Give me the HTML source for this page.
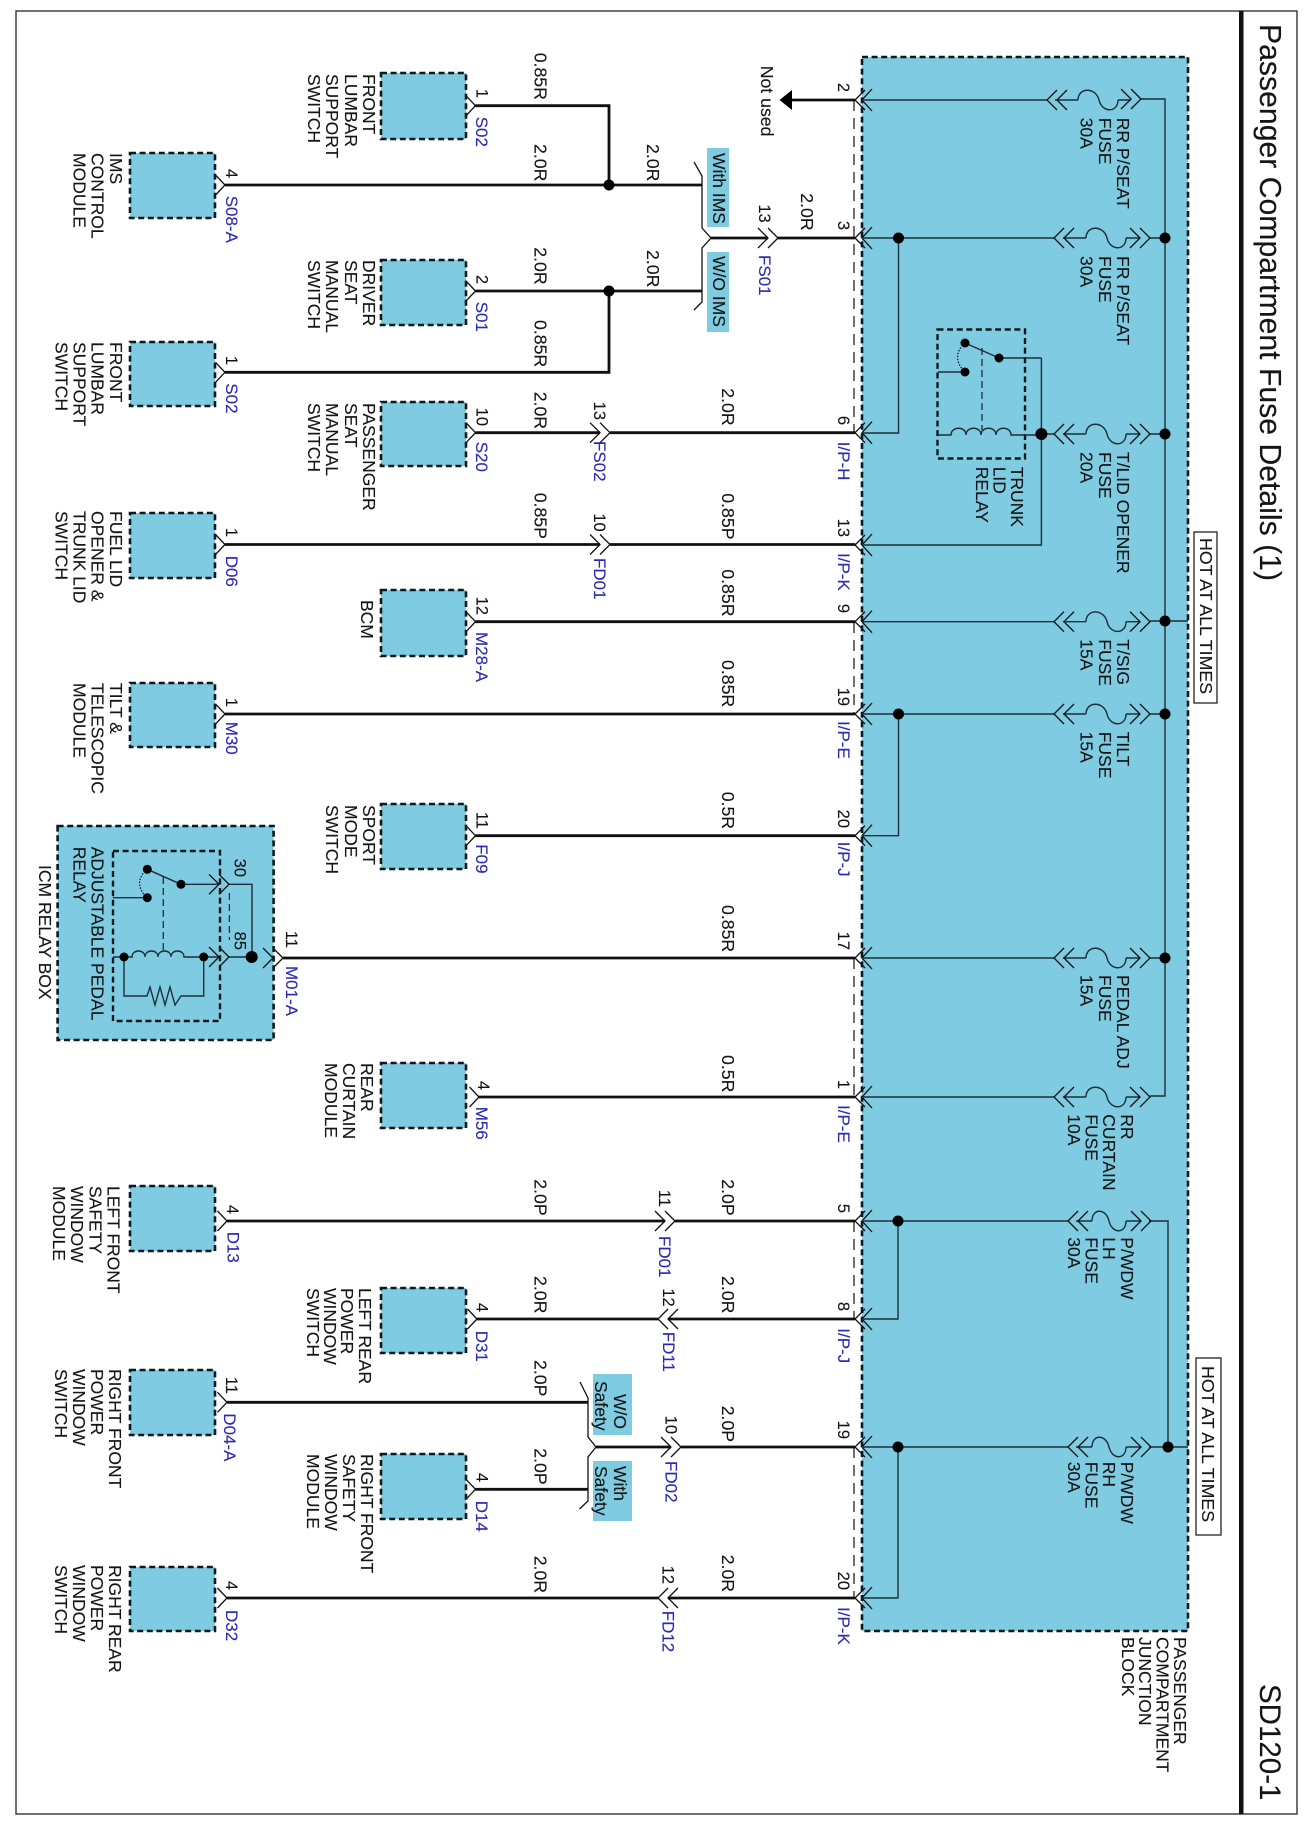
<!DOCTYPE html>
<html><head><meta charset="utf-8"><title>SD120-1</title>
<style>
html,body{margin:0;padding:0;background:#fff;width:1305px;height:1824px;overflow:hidden}
svg{display:block}
text{font-family:"Liberation Sans",sans-serif;fill:#151515;stroke:#151515;stroke-width:.12}
.l{font-size:17.5px}.n{font-size:16.5px;text-anchor:end}.r{font-size:17px;fill:#2a2ab4;stroke:#2a2ab4}.w{font-size:17.7px}
.b{fill:#7fcbe1;stroke:#0c1a20;stroke-width:2.6;stroke-dasharray:6 3.6}
.t{fill:none;stroke:#101010;stroke-width:2.8}
.h{fill:none;stroke:#1c2f38;stroke-width:1.4}
.c{fill:none;stroke:#111;stroke-width:1.3}
</style></head><body>
<svg width="1305" height="1824" viewBox="0 0 1305 1824" xmlns="http://www.w3.org/2000/svg">
<defs>
<path id="p" class="c" d="M10,-10L0,0L10,10M17,-11L7,0L17,11"/>
<path id="gg" class="c" d="M-10,-10L0,0L-10,10M0,-10L10,0L0,10"/>
<path id="ll" class="c" d="M10,-10L0,0L10,10M20,-10L10,0L20,10"/>
<path id="s" class="c" d="M-9.5,-10L0,0L-9.5,10"/>
<path id="f" class="h" d="M0,0C0,-13 18,-13 21,0C24,13 40,13 40,0"/>
<path id="f2" class="h" d="M0,0C0,-13 14,-13 17,0C20,13 34,13 34,0"/>
</defs>
<rect width="1305" height="1824" fill="#fff"/>
<rect x="16" y="11" width="1281" height="1803" fill="none" stroke="#333" stroke-width="1.4"/>
<rect x="1239" y="11" width="4.5" height="1803" fill="#111"/>

<!-- blue blocks -->
<rect class="b" x="862" y="57" width="326" height="1574"/>
<rect class="b" x="57.6" y="826" width="216" height="214"/>
<rect class="b" x="130" y="153" width="85" height="65"/>
<rect class="b" x="381" y="73" width="85" height="66"/>
<rect class="b" x="381" y="260" width="85" height="65"/>
<rect class="b" x="130" y="342" width="85" height="64"/>
<rect class="b" x="381" y="402" width="85" height="64"/>
<rect class="b" x="130" y="513" width="85" height="65"/>
<rect class="b" x="381" y="590" width="85" height="66"/>
<rect class="b" x="130" y="683" width="85" height="64"/>
<rect class="b" x="381" y="804" width="85" height="65"/>
<rect class="b" x="381" y="1063" width="85" height="65"/>
<rect class="b" x="130" y="1186" width="85" height="65"/>
<rect class="b" x="381" y="1288" width="85" height="65"/>
<rect class="b" x="130" y="1370" width="85" height="65"/>
<rect class="b" x="381" y="1454" width="85" height="65"/>
<rect class="b" x="130" y="1567" width="85" height="64"/>
<rect x="707" y="148" width="22" height="79" fill="#7fcbe1"/>
<rect x="707" y="252" width="22" height="80" fill="#7fcbe1"/>
<rect x="593" y="1374" width="39" height="61" fill="#7fcbe1"/>
<rect x="593" y="1461" width="39" height="60" fill="#7fcbe1"/>

<!-- dashed connector rails -->
<path d="M854,100V433M854,622V714M854,958V1097M854,1221V1319M854,1447V1598" fill="none" stroke="#111" stroke-width="1.2" stroke-dasharray="11 7"/>

<!-- thick wires -->
<path class="t" d="M475.5,105.7H609V185M225,185H702M475.5,291H702M609,291V372.3H225M475.5,432.7H600M610,432.7H855M225,544.5H600M610,544.5H855M475.5,621.7H855M225,714H855M475.5,835.7H855M283,958H855M479,1097H855M227,1221H665M675,1221H855M477,1319H658M668,1319H855M227,1402.3H588M475.5,1489.3H588M596,1447H671M681,1447H855M227,1598H658M668,1598H855M711,238H768M777,238H855M792,100H855"/>
<path d="M779.5,100L792,90V110Z" fill="#000"/>

<!-- branch brackets -->
<path class="c" d="M694,162L702,176V228L711,238L702,248V302L694,310"/>
<path class="c" d="M580,1382L588,1398V1437L596,1447L588,1457V1501L579.5,1509"/>

<!-- box connectors -->
<use href="#s" x="225" y="185"/><use href="#s" x="475.5" y="105.7"/><use href="#s" x="475.5" y="291"/><use href="#s" x="225" y="372.3"/><use href="#s" x="475.5" y="432.7"/><use href="#s" x="225" y="544.5"/><use href="#s" x="475.5" y="621.7"/><use href="#s" x="225" y="714"/><use href="#s" x="475.5" y="835.7"/><use href="#s" x="479" y="1097"/><use href="#s" x="227" y="1221"/><use href="#s" x="477" y="1319"/><use href="#s" x="227" y="1402.3"/><use href="#s" x="475.5" y="1489.3"/><use href="#s" x="227" y="1598"/>

<!-- pass-through connectors -->
<use href="#gg" x="768" y="238"/><use href="#gg" x="600" y="432.7"/><use href="#gg" x="600" y="544.5"/><use href="#gg" x="665" y="1221"/><use href="#ll" x="658" y="1319"/><use href="#gg" x="671" y="1447"/><use href="#ll" x="658" y="1598"/><use href="#gg" x="273" y="958"/>

<!-- junction pins -->
<use href="#p" x="855" y="100"/><use href="#p" x="855" y="238"/><use href="#p" x="855" y="432.7"/><use href="#p" x="855" y="545"/><use href="#p" x="855" y="621.7"/><use href="#p" x="855" y="714"/><use href="#p" x="855" y="835.7"/><use href="#p" x="855" y="958"/><use href="#p" x="855" y="1097"/><use href="#p" x="855" y="1221"/><use href="#p" x="855" y="1319"/><use href="#p" x="855" y="1447"/><use href="#p" x="855" y="1598"/>

<!-- internal wiring -->
<path class="h" d="M862,100H1047M1055,100H1078M1118,100H1131M1141,99H1165V1096H1150"/>
<path class="h" d="M862,238H1054M1063,238H1086M1126,238H1140M1150,238H1165M898.5,238V433H862"/>
<path class="h" d="M1063,434H1086M1126,434H1140M1150,434H1165M1041.4,434H1054M1041.4,358V545H862M999,358H1041.4"/>
<path class="h" d="M862,621.7H1054M1063,621.7H1086M1126,621.7H1140M1150,621H1188"/>
<path class="h" d="M862,714H1054M1063,714H1086M1126,714H1140M1150,714H1165M898.5,714V835.7H862"/>
<path class="h" d="M862,958H1054M1063,958H1086M1126,958H1140M1150,958H1165"/>
<path class="h" d="M862,1097H1054M1063,1097H1086M1126,1097H1140"/>
<path class="h" d="M862,1221H1068M1076,1221H1092M1126,1221H1141M1149,1221H1168V1447M898,1221V1319H862"/>
<path class="h" d="M862,1447H1068M1076,1447H1092M1126,1447H1141M1149,1447H1188M898,1447V1598H862"/>

<!-- fuses -->
<use href="#ll" x="1047" y="100"/><use href="#f" x="1078" y="100"/><use href="#gg" x="1131" y="99"/>
<use href="#ll" x="1054" y="238"/><use href="#f" x="1086" y="238"/><use href="#gg" x="1140" y="238"/>
<use href="#ll" x="1054" y="434"/><use href="#f" x="1086" y="434"/><use href="#gg" x="1140" y="434"/>
<use href="#ll" x="1054" y="621.7"/><use href="#f" x="1086" y="621.7"/><use href="#gg" x="1140" y="621.7"/>
<use href="#ll" x="1054" y="714"/><use href="#f" x="1086" y="714"/><use href="#gg" x="1140" y="714"/>
<use href="#ll" x="1054" y="958"/><use href="#f" x="1086" y="958"/><use href="#gg" x="1140" y="958"/>
<use href="#ll" x="1054" y="1097"/><use href="#f" x="1086" y="1097"/><use href="#gg" x="1140" y="1097"/>
<use href="#ll" x="1068" y="1221"/><use href="#f2" x="1092" y="1221"/><use href="#gg" x="1141" y="1221"/>
<use href="#ll" x="1068" y="1447"/><use href="#f2" x="1092" y="1447"/><use href="#gg" x="1141" y="1447"/>

<!-- trunk relay -->
<rect x="937.5" y="329.5" width="87.5" height="129" fill="none" stroke="#0c1a20" stroke-width="2.4" stroke-dasharray="6 3.6"/>
<path class="h" d="M938,435H951c0,-9 15,-9 15,0c0,-9 15,-9 15,0c0,-9 15,-9 15,0c0,-9 15,-9 15,0H1041M938,372H965M965,343L999,358"/>
<path d="M982,348V430" fill="none" stroke="#1c2f38" stroke-width="1.3" stroke-dasharray="7 4"/>
<path d="M965,343C955,352 955,362 965,372" fill="none" stroke="#111" stroke-width="1.2" stroke-dasharray="1.5 1.5"/>

<!-- ICM relay -->
<rect x="113" y="851" width="107" height="170" fill="none" stroke="#0c1a20" stroke-width="2.4" stroke-dasharray="6 3.6"/>
<path class="h" d="M113,957H124H132c0,-8 13,-8 13,0c0,-8 13,-8 13,0c0,-8 13,-8 13,0c0,-8 13,-8 13,0H219M228,957H252M181,884.3H219M228,884.3H252V957M113,897.7H147.3M147.3,869.3L181,884.3M124,957V996H147l3,-9l5,18l5,-18l5,18l5,-18l5,18l6,-9H203.7V957"/>
<path d="M163.3,877V953M229.4,893V940" fill="none" stroke="#1c2f38" stroke-width="1.3" stroke-dasharray="7 4"/>
<path d="M147.3,869C137,878 137,888 147.3,898" fill="none" stroke="#111" stroke-width="1.2" stroke-dasharray="1.5 1.5"/>
<use href="#gg" x="219" y="884.3"/><use href="#gg" x="219" y="957"/>

<!-- dots -->
<g fill="#000">
<circle cx="609" cy="185" r="5.5"/><circle cx="609" cy="291" r="5.5"/>
<circle cx="898.5" cy="238" r="5.5"/><circle cx="898.5" cy="714" r="5.5"/><circle cx="898" cy="1221" r="5.5"/><circle cx="898" cy="1447" r="5.5"/>
<circle cx="1165" cy="238" r="5.5"/><circle cx="1165" cy="434" r="5.5"/><circle cx="1165" cy="621" r="5.5"/><circle cx="1165" cy="714" r="5.5"/><circle cx="1165" cy="958" r="5.5"/><circle cx="1168" cy="1447" r="5.5"/>
<circle cx="1041.4" cy="434" r="6"/><circle cx="251.7" cy="957" r="6"/>
<circle cx="965" cy="343" r="4.5"/><circle cx="999" cy="358" r="4.5"/><circle cx="965" cy="372" r="4.5"/>
<circle cx="147.3" cy="869.3" r="4.5"/><circle cx="181" cy="884.3" r="4.5"/><circle cx="147.3" cy="897.7" r="4.5"/>
<circle cx="124" cy="957" r="4.5"/><circle cx="203.7" cy="957" r="4.5"/>
</g>

<!-- hot boxes -->
<rect x="1194" y="532" width="23" height="171" fill="#fff" stroke="#222" stroke-width="1.3"/>
<rect x="1196" y="1358" width="25" height="177" fill="#fff" stroke="#222" stroke-width="1.3"/>

<!-- all text, rotated: x = page y, y = -page x -->
<g transform="rotate(90)">
<text x="24" y="-1260" font-size="30.2">Passenger Compartment Fuse Details (1)</text>
<text x="1684" y="-1260" font-size="29.5">SD120-1</text>
<text x="538" y="-1200" font-size="17.8">HOT AT ALL TIMES</text>
<text x="1366" y="-1202" font-size="17.8">HOT AT ALL TIMES</text>

<g transform="translate(0,-1.2)">
<text class="l" x="74" y="-362">FRONT</text><text class="l" x="74" y="-344">LUMBAR</text><text class="l" x="74" y="-325">SUPPORT</text><text class="l" x="74" y="-307">SWITCH</text>
<text class="l" x="153" y="-108.6">IMS</text><text class="l" x="153" y="-90.5">CONTROL</text><text class="l" x="153" y="-72.4">MODULE</text>
<text class="l" x="260" y="-362">DRIVER</text><text class="l" x="260" y="-344">SEAT</text><text class="l" x="260" y="-325">MANUAL</text><text class="l" x="260" y="-307">SWITCH</text>
<text class="l" x="342" y="-108.6">FRONT</text><text class="l" x="342" y="-90.5">LUMBAR</text><text class="l" x="342" y="-72.4">SUPPORT</text><text class="l" x="342" y="-54.3">SWITCH</text>
<text class="l" x="403" y="-362">PASSENGER</text><text class="l" x="403" y="-344">SEAT</text><text class="l" x="403" y="-325">MANUAL</text><text class="l" x="403" y="-307">SWITCH</text>
<text class="l" x="511" y="-108.6">FUEL LID</text><text class="l" x="511" y="-90.5">OPENER &amp;</text><text class="l" x="511" y="-72.4">TRUNK LID</text><text class="l" x="511" y="-54.3">SWITCH</text>
<text class="l" x="600" y="-360">BCM</text>
<text class="l" x="683" y="-108.6">TILT &amp;</text><text class="l" x="683" y="-90.5">TELESCOPIC</text><text class="l" x="683" y="-72.4">MODULE</text>
<text class="l" x="805" y="-362">SPORT</text><text class="l" x="805" y="-344">MODE</text><text class="l" x="805" y="-325">SWITCH</text>
<text class="l" x="1063" y="-360">REAR</text><text class="l" x="1063" y="-342">CURTAIN</text><text class="l" x="1063" y="-324">MODULE</text>
<text class="l" x="1186" y="-106.5">LEFT FRONT</text><text class="l" x="1186" y="-88.5">SAFETY</text><text class="l" x="1186" y="-70">WINDOW</text><text class="l" x="1186" y="-52">MODULE</text>
<text class="l" x="1288" y="-358">LEFT REAR</text><text class="l" x="1288" y="-340">POWER</text><text class="l" x="1288" y="-323">WINDOW</text><text class="l" x="1288" y="-306">SWITCH</text>
<text class="l" x="1369" y="-108">RIGHT FRONT</text><text class="l" x="1369" y="-90">POWER</text><text class="l" x="1369" y="-72">WINDOW</text><text class="l" x="1369" y="-54">SWITCH</text>
<text class="l" x="1454" y="-360">RIGHT FRONT</text><text class="l" x="1454" y="-342">SAFETY</text><text class="l" x="1454" y="-324">WINDOW</text><text class="l" x="1454" y="-306">MODULE</text>
<text class="l" x="1565" y="-108">RIGHT REAR</text><text class="l" x="1565" y="-90">POWER</text><text class="l" x="1565" y="-72">WINDOW</text><text class="l" x="1565" y="-54">SWITCH</text>
<text class="l" x="1637" y="-1173">PASSENGER</text><text class="l" x="1637" y="-1155.4">COMPARTMENT</text><text class="l" x="1637" y="-1138">JUNCTION</text><text class="l" x="1637" y="-1121">BLOCK</text>
<text class="l" x="466.7" y="-1010">TRUNK</text><text class="l" x="466.7" y="-992.5">LID</text><text class="l" x="466.7" y="-975">RELAY</text>
<text class="l" x="846.7" y="-90.5">ADJUSTABLE PEDAL</text><text class="l" x="846.7" y="-72.4">RELAY</text>
<text class="l" x="865" y="-38">ICM RELAY BOX</text>
<text class="l" x="117.7" y="-1116">RR P/SEAT</text><text class="l" x="117.7" y="-1098">FUSE</text><text class="l" x="117.7" y="-1079.5">30A</text>
<text class="l" x="256" y="-1116">FR P/SEAT</text><text class="l" x="256" y="-1098">FUSE</text><text class="l" x="256" y="-1079.5">30A</text>
<text class="l" x="452" y="-1116">T/LID OPENER</text><text class="l" x="452" y="-1098">FUSE</text><text class="l" x="452" y="-1079.5">20A</text>
<text class="l" x="639.3" y="-1116">T/SIG</text><text class="l" x="639.3" y="-1098">FUSE</text><text class="l" x="639.3" y="-1079.5">15A</text>
<text class="l" x="731.7" y="-1116">TILT</text><text class="l" x="731.7" y="-1098">FUSE</text><text class="l" x="731.7" y="-1079.5">15A</text>
<text class="l" x="975" y="-1116">PEDAL ADJ</text><text class="l" x="975" y="-1098">FUSE</text><text class="l" x="975" y="-1079.5">15A</text>
<text class="l" x="1114.3" y="-1120">RR</text><text class="l" x="1114.3" y="-1102">CURTAIN</text><text class="l" x="1114.3" y="-1084.4">FUSE</text><text class="l" x="1114.3" y="-1067">10A</text>
<text class="l" x="1237.3" y="-1120">P/WDW</text><text class="l" x="1237.3" y="-1102">LH</text><text class="l" x="1237.3" y="-1084.4">FUSE</text><text class="l" x="1237.3" y="-1067">30A</text>
<text class="l" x="1461.7" y="-1120">P/WDW</text><text class="l" x="1461.7" y="-1102">RH</text><text class="l" x="1461.7" y="-1084.4">FUSE</text><text class="l" x="1461.7" y="-1067">30A</text>
<text class="l" x="153" y="-712">With IMS</text><text class="l" x="256" y="-712">W/O IMS</text>
<text class="l" x="1394" y="-613">W/O</text><text class="l" x="1381" y="-594">Safety</text>
<text class="l" x="1466" y="-613">With</text><text class="l" x="1466" y="-594">Safety</text>
<text class="w" x="65.7" y="-760">Not used</text>
</g>

<g transform="translate(0,-1)">
<!-- wire sizes -->
<text class="w" x="52.7" y="-533.7">0.85R</text><text class="w" x="144" y="-533.7">2.0R</text><text class="w" x="247.3" y="-533.7">2.0R</text><text class="w" x="320" y="-533.7">0.85R</text><text class="w" x="391.7" y="-533.7">2.0R</text><text class="w" x="492.7" y="-533.7">0.85P</text><text class="w" x="1179.3" y="-533.7">2.0P</text><text class="w" x="1276" y="-533.7">2.0R</text><text class="w" x="1360" y="-533.7">2.0P</text><text class="w" x="1448.3" y="-533.7">2.0P</text><text class="w" x="1555.7" y="-533.7">2.0R</text>
<text class="w" x="144" y="-646">2.0R</text><text class="w" x="250" y="-646">2.0R</text><text class="w" x="193.3" y="-800">2.0R</text>
<text class="w" x="388.3" y="-721">2.0R</text><text class="w" x="493.3" y="-721">0.85P</text><text class="w" x="569.3" y="-721">0.85R</text><text class="w" x="660" y="-721">0.85R</text><text class="w" x="791.7" y="-721">0.5R</text><text class="w" x="905" y="-721">0.85R</text><text class="w" x="1055" y="-721">0.5R</text><text class="w" x="1179.3" y="-721">2.0P</text><text class="w" x="1276" y="-721">2.0R</text><text class="w" x="1405.7" y="-721">2.0P</text><text class="w" x="1554.7" y="-721">2.0R</text>

<!-- pin numbers -->
<text class="n" x="92" y="-837">2</text><text class="n" x="230" y="-837">3</text><text class="n" x="425" y="-837">6</text><text class="n" x="537" y="-837">13</text><text class="n" x="613" y="-837">9</text><text class="n" x="706" y="-837">19</text><text class="n" x="828" y="-837">20</text><text class="n" x="950" y="-837">17</text><text class="n" x="1089" y="-837">1</text><text class="n" x="1213" y="-837">5</text><text class="n" x="1311" y="-837">8</text><text class="n" x="1439" y="-837">19</text><text class="n" x="1590" y="-837">20</text>
<text class="n" x="98" y="-475.5">1</text><text class="n" x="284" y="-475.5">2</text><text class="n" x="426" y="-475.5">10</text><text class="n" x="615" y="-475.5">12</text><text class="n" x="829" y="-475.5">11</text><text class="n" x="1090" y="-477">4</text><text class="n" x="1312" y="-475.5">4</text><text class="n" x="1482" y="-475.5">4</text>
<text class="n" x="178" y="-225">4</text><text class="n" x="365" y="-225">1</text><text class="n" x="537" y="-225">1</text><text class="n" x="707" y="-225">1</text><text class="n" x="1214" y="-226">4</text><text class="n" x="1394" y="-225">11</text><text class="n" x="1590" y="-225">4</text>
<text class="n" x="222.7" y="-758">13</text><text class="n" x="420" y="-593">13</text><text class="n" x="531.7" y="-593">10</text><text class="n" x="1207" y="-658">11</text><text class="n" x="1306.7" y="-662">12</text><text class="n" x="1434" y="-664.6">10</text><text class="n" x="1584" y="-661.7">12</text><text class="n" x="948" y="-285">11</text><text class="n" x="877" y="-233.6">30</text><text class="n" x="950" y="-233.6">85</text>

<!-- connector refs -->
<text class="r" x="116.7" y="-475">S02</text><text class="r" x="301.7" y="-475">S01</text><text class="r" x="441.7" y="-475">S20</text><text class="r" x="632" y="-475">M28-A</text><text class="r" x="844.3" y="-475">F09</text><text class="r" x="1106.7" y="-475">M56</text><text class="r" x="1330.7" y="-475">D31</text><text class="r" x="1500.7" y="-475">D14</text>
<text class="r" x="195.7" y="-225">S08-A</text><text class="r" x="383.3" y="-225">S02</text><text class="r" x="555.7" y="-225">D06</text><text class="r" x="721.7" y="-225">M30</text><text class="r" x="1231.7" y="-226.4">D13</text><text class="r" x="1413.3" y="-223">D04-A</text><text class="r" x="1610" y="-225">D32</text>
<text class="r" x="255" y="-758">FS01</text><text class="r" x="441" y="-593">FS02</text><text class="r" x="558" y="-593">FD01</text><text class="r" x="1236" y="-658">FD01</text><text class="r" x="1331.7" y="-662">FD11</text><text class="r" x="1461" y="-664.6">FD02</text><text class="r" x="1610.7" y="-661.7">FD12</text><text class="r" x="966" y="-285">M01-A</text>
<text class="r" x="441.7" y="-837">I/P-H</text><text class="r" x="553" y="-837">I/P-K</text><text class="r" x="721" y="-837">I/P-E</text><text class="r" x="841.7" y="-837">I/P-J</text><text class="r" x="1105" y="-837">I/P-E</text><text class="r" x="1328.3" y="-837">I/P-J</text><text class="r" x="1607" y="-837">I/P-K</text>
</g>
</g>
</svg>
</body></html>
